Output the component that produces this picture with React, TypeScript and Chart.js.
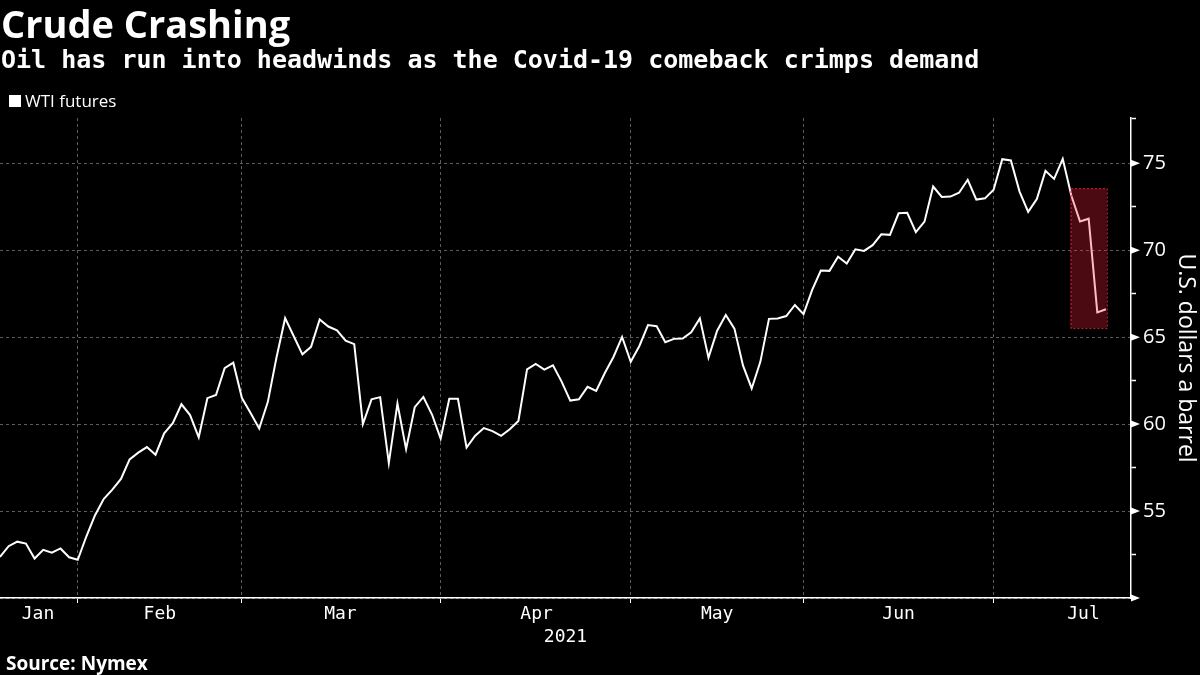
import React, { useEffect, useRef } from "react";
import { Chart, registerables } from "chart.js";

Chart.register(...registerables);

// ---- Data (WTI futures, US$ per barrel, daily) ----
const janValues = [52.36, 52.98, 53.24, 53.13, 52.27, 52.77, 52.61, 52.85, 52.34, 52.2];
const febValues = [53.55, 54.76, 55.69, 56.23, 56.85, 57.97, 58.36, 58.68, 58.24, 59.47, 60.05, 61.14, 60.52, 59.24, 61.49, 61.67, 63.22, 63.53, 61.5];
const marValues = [60.64, 59.75, 61.28, 63.83, 66.09, 65.05, 64.01, 64.44, 66.02, 65.61, 65.39, 64.8, 64.6, 60.0, 61.42, 61.55, 57.76, 61.18, 58.56, 60.97, 61.56, 60.55, 59.16];
const aprValues = [61.45, 61.45, 58.65, 59.33, 59.77, 59.6, 59.32, 59.7, 60.18, 63.15, 63.46, 63.13, 63.38, 62.44, 61.35, 61.43, 62.14, 61.91, 62.94, 63.86, 65.01, 63.58];
const mayValues = [64.49, 65.69, 65.63, 64.71, 64.9, 64.92, 65.28, 66.08, 63.82, 65.37, 66.27, 65.49, 63.36, 62.05, 63.58, 66.05, 66.07, 66.21, 66.85, 66.32];
const junValues = [67.72, 68.83, 68.81, 69.62, 69.23, 70.05, 69.96, 70.29, 70.91, 70.88, 72.12, 72.15, 71.04, 71.64, 73.66, 73.06, 73.08, 73.3, 74.05, 72.91, 72.98, 73.47];
const julValues = [75.23, 75.16, 73.37, 72.2, 72.94, 74.56, 74.1, 75.25, 73.13, 71.65, 71.81, 66.42, 66.6];

const wtiFutures = [...janValues, ...febValues, ...marValues, ...aprValues, ...mayValues, ...junValues, ...julValues];

const monthLabels = ["Jan", "Feb", "Mar", "Apr", "May", "Jun", "Jul"];
const monthLabelPos = [4.4, 18.5, 39.4, 62.1, 83, 104, 125.4];
const monthEndPos = [9, 28, 51, 73, 93, 115];
const yearLabel = "2021";

const yMin = 50;
const yMax = 77.6;
const yTickValues = [50, 52.5, 55, 57.5, 60, 62.5, 65, 67.5, 70, 72.5, 75, 77.6];
const yLabelValues = [55, 60, 65, 70, 75];

const xMin = 0;
const xMax = 130.9;

const highlightX = [123.9, 128.1];
const highlightY = [65.52, 73.56];

const TEXT_FONT = "'Open Sans', 'Noto Sans', 'DejaVu Sans', sans-serif";
const MONO_FONT = "'DejaVu Sans Mono', 'Liberation Mono', monospace";
const GRID = "#5c5c5c";

export default function App() {
  const canvasRef = useRef<HTMLCanvasElement | null>(null);

  useEffect(() => {
    document.body.style.margin = "0";
    document.body.style.background = "#000";
    const canvas = canvasRef.current;
    if (!canvas) return;

    const highlightPlugin = {
      id: "highlightBox",
      afterDatasetsDraw(chart: any) {
        const { ctx, scales } = chart;
        const x = scales.x;
        const y = scales.y;
        const x1 = x.getPixelForValue(highlightX[0]);
        const x2 = x.getPixelForValue(highlightX[1]);
        const y1 = y.getPixelForValue(highlightY[1]);
        const y2 = y.getPixelForValue(highlightY[0]);
        ctx.save();
        ctx.fillStyle = "rgba(250, 30, 60, 0.3)";
        ctx.fillRect(x1, y1, x2 - x1, y2 - y1);
        ctx.setLineDash([2, 2]);
        ctx.strokeStyle = "rgba(210, 40, 60, 0.95)";
        ctx.lineWidth = 1;
        ctx.strokeRect(x1 + 0.5, y1 + 0.5, x2 - x1, y2 - y1);
        ctx.restore();
      },
    };

    const tickArrowPlugin = {
      id: "tickArrows",
      afterDraw(chart: any) {
        const { ctx, scales } = chart;
        const y = scales.y;
        const left = y.left;
        ctx.save();
        ctx.fillStyle = "#ffffff";
        [50, ...yLabelValues].forEach((v) => {
          const py = y.getPixelForValue(v);
          ctx.beginPath();
          ctx.moveTo(left, py - 3.5);
          ctx.lineTo(left + 9, py);
          ctx.lineTo(left, py + 3.5);
          ctx.closePath();
          ctx.fill();
        });
        ctx.restore();
      },
    };

    const chart = new Chart(canvas, {
      type: "line",
      data: {
        datasets: [
          {
            label: "WTI futures",
            data: wtiFutures.map((v, i) => ({ x: i, y: v })),
            borderColor: "#ffffff",
            borderWidth: 2,
            pointRadius: 0,
            tension: 0,
            fill: false,
          },
        ],
      },
      options: {
        responsive: false,
        animation: false,
        layout: { padding: { top: 118, bottom: 29, left: 0, right: 0 } },
        plugins: {
          legend: { display: false },
          tooltip: { enabled: false },
        },
        scales: {
          x: {
            type: "linear",
            position: "bottom",
            min: xMin,
            max: xMax,
            afterBuildTicks: (scale: any) => {
              scale.ticks = monthEndPos.map((v) => ({ value: v }));
            },
            afterFit: (scale: any) => {
              scale.height = 5;
            },
            ticks: { display: false },
            grid: {
              color: GRID,
              lineWidth: 1,
              tickColor: "#ffffff",
              tickLength: 5,
              tickWidth: 1,
            },
            border: { display: true, color: "#ffffff", width: 1.5, dash: [3, 3] },
          },
          xLabels: {
            type: "linear",
            position: "bottom",
            min: xMin,
            max: xMax,
            afterBuildTicks: (scale: any) => {
              scale.ticks = monthLabelPos.map((v) => ({ value: v }));
            },
            afterFit: (scale: any) => {
              scale.height = 43;
            },
            grid: { display: false, drawTicks: false, tickLength: 0 },
            border: { display: false },
            ticks: {
              autoSkip: false,
              maxRotation: 0,
              padding: 1,
              color: "#ffffff",
              font: { family: MONO_FONT, size: 18 },
              callback: (_v: any, index: number) => monthLabels[index],
            },
            title: {
              display: true,
              text: yearLabel,
              color: "#ffffff",
              font: { family: MONO_FONT, size: 18, lineHeight: 1 },
              padding: { top: 0, bottom: 0 },
            },
          },
          y: {
            type: "linear",
            position: "right",
            min: yMin,
            max: yMax,
            afterBuildTicks: (scale: any) => {
              scale.ticks = yTickValues.map((v) => ({ value: v }));
            },
            afterFit: (scale: any) => {
              scale.width = 69;
            },
            grid: {
              color: (ctx: any) => {
                const v = ctx.tick ? ctx.tick.value : 0;
                return v % 5 === 0 ? GRID : "rgba(0,0,0,0)";
              },
              lineWidth: 1,
              tickColor: "#ffffff",
              tickLength: 5,
              tickWidth: 1.5,
            },
            border: { display: true, color: "#ffffff", width: 1.5, dash: [3, 3] },
            ticks: {
              autoSkip: false,
              padding: 7,
              color: "#ffffff",
              font: { family: TEXT_FONT, size: 20 },
              callback: (v: any) => (yLabelValues.includes(v) ? String(v) : ""),
            },
            title: {
              display: true,
              text: "U.S. dollars a barrel",
              color: "#ffffff",
              font: { family: TEXT_FONT, size: 23, lineHeight: 1 },
              padding: { top: 3, bottom: 0 },
            },
          },
        },
      },
      plugins: [highlightPlugin, tickArrowPlugin],
    } as any);

    return () => {
      chart.destroy();
    };
  }, []);

  return (
    <div
      style={{
        position: "fixed",
        left: 0,
        top: 0,
        width: 1200,
        height: 675,
        background: "#000",
        color: "#fff",
        overflow: "hidden",
      }}
    >
      <canvas ref={canvasRef} width={1200} height={675} style={{ position: "absolute", left: 0, top: 0 }} />
      <div
        style={{
          position: "absolute",
          left: 1,
          top: 0,
          fontFamily: TEXT_FONT,
          fontWeight: 700,
          fontSize: 38,
          lineHeight: "46px",
          whiteSpace: "nowrap",
        }}
      >
        Crude Crashing
      </div>
      <div
        style={{
          position: "absolute",
          left: 1,
          top: 44,
          fontFamily: MONO_FONT,
          fontWeight: 700,
          fontSize: 25,
          lineHeight: "32px",
          whiteSpace: "nowrap",
        }}
      >
        Oil has run into headwinds as the Covid-19 comeback crimps demand
      </div>
      <div
        style={{
          position: "absolute",
          left: 9,
          top: 90,
          display: "flex",
          alignItems: "center",
          fontFamily: TEXT_FONT,
          fontSize: 17,
          lineHeight: "22px",
          whiteSpace: "nowrap",
        }}
      >
        <span style={{ display: "inline-block", width: 12, height: 12, background: "#fff", marginRight: 4 }} />
        <span>WTI futures</span>
      </div>
      <div
        style={{
          position: "absolute",
          left: 6,
          top: 650,
          fontFamily: TEXT_FONT,
          fontWeight: 700,
          fontSize: 19,
          lineHeight: "26px",
          whiteSpace: "nowrap",
        }}
      >
        Source: Nymex
      </div>
    </div>
  );
}
